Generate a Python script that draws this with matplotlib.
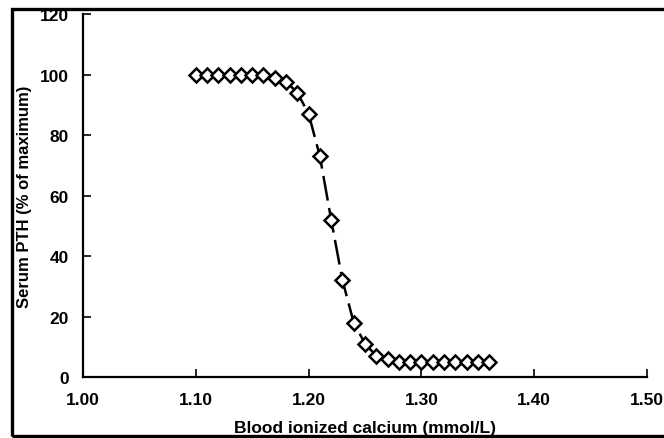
import matplotlib.pyplot as plt
from matplotlib.patches import Rectangle

plt.rcParams['font.family'] = ['Liberation Sans', 'DejaVu Sans']
plt.rcParams['font.weight'] = 'bold'

# ionized calcium (mmol/L) and PTH response (% of maximum)
calcium = [1.10, 1.11, 1.12, 1.13, 1.14, 1.15, 1.16, 1.17, 1.18, 1.19,
           1.20, 1.21, 1.22, 1.23, 1.24, 1.25, 1.26, 1.27, 1.28, 1.29,
           1.30, 1.31, 1.32, 1.33, 1.34, 1.35, 1.36]
pth = [100, 100, 100, 100, 100, 100, 100, 99, 97.6, 94,
       87, 73, 52, 32, 18, 11, 7, 6, 5, 5,
       5, 5, 5, 5, 5, 5, 5]
xticks = [1.00, 1.10, 1.20, 1.30, 1.40, 1.50]
yticks = [0, 20, 40, 60, 80, 100, 120]

fig = plt.figure(figsize=(6.64, 4.39), dpi=100)
ax = fig.add_axes([83 / 664, 1 - 378 / 439, (647 - 83) / 664, (378 - 15) / 439])

ax.plot(calcium, pth, color='black', lw=1.8, dashes=(10, 3),
        marker='D', markersize=7, markerfacecolor='white',
        markeredgecolor='black', markeredgewidth=1.8, zorder=3)

ax.set_xlim(1.0, 1.5)
ax.set_ylim(0, 120)
ax.set_xticks(xticks)
ax.set_xticklabels(['%.2f' % t for t in xticks])
ax.set_yticks(yticks)
ax.tick_params(direction='in', length=6, width=1.2, labelsize=12.5, colors='black')
ax.tick_params(axis='x', pad=11)
ax.tick_params(axis='y', pad=10)
for s in ['top', 'right']:
    ax.spines[s].set_visible(False)
for s in ['left', 'bottom']:
    ax.spines[s].set_linewidth(1.6)

ax.set_xlabel('Blood ionized calcium (mmol/L)', fontsize=12.5, fontweight='bold', labelpad=9)
ax.set_ylabel('Serum PTH (% of maximum)', fontsize=12, fontweight='bold', labelpad=6)

# outer frame around the figure
fig.patches.append(Rectangle((12 / 664, 2 / 439), 1.0, 1 - 12 / 439, transform=fig.transFigure,
                             fill=False, edgecolor='black', linewidth=2.4))

fig.savefig('out.png', dpi=100)
